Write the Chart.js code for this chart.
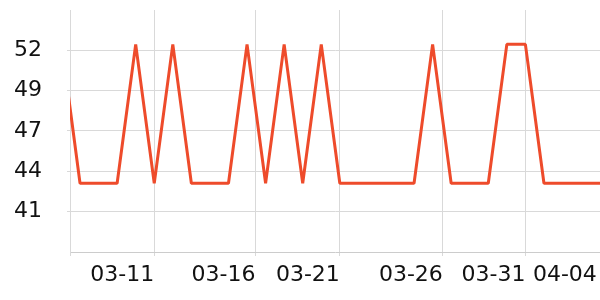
<!DOCTYPE html>
<html>
<head>
<meta charset="utf-8">
<script src="https://cdn.jsdelivr.net/npm/chart.js@4"></script>
<style>
  html, body { margin: 0; padding: 0; background: #ffffff; }
  #wrap { width: 600px; height: 300px; }
</style>
</head>
<body>
<div id="wrap"><canvas id="lineChart"></canvas></div>
<script>
// one point per day, 03-06 .. 04-05
const days = [
    '03-06', '03-07', '03-08', '03-09', '03-10', '03-11', '03-12', '03-13',
    '03-14', '03-15', '03-16', '03-17', '03-18', '03-19', '03-20', '03-21',
    '03-22', '03-23', '03-24', '03-25', '03-26', '03-27', '03-28', '03-29',
    '03-30', '03-31', '04-01', '04-02', '04-03', '04-04', '04-05'
];
const values = [
    52.6, 43.2, 43.2, 43.2, 52.5, 43.2, 52.5, 43.2,
    43.2, 43.2, 52.5, 43.2, 52.5, 43.2, 52.5, 43.2,
    43.2, 43.2, 43.2, 43.2, 52.5, 43.2, 43.2, 43.2,
    52.5, 52.5, 43.2, 43.2, 43.2, 43.2, 43.2
];

// x ticks (day index) and their labels
const xTickPos = [5, 10.45, 15, 20.55, 25, 28.85];
const xTickLabels = ['03-11', '03-16', '03-21', '03-26', '03-31', '04-04'];
const xMin = 0.46;
const xMax = 29.02;

// y ticks
const yTicks = [41.3, 44.0, 46.7, 49.4, 52.1];
const yMin = 38.6;
const yMax = 54.8;

const FONT = 'DejaVu Sans';
const GRID = '#d9d9d9';

let lineChart;

document.addEventListener('DOMContentLoaded', function() {
    const ctx = document.getElementById('lineChart').getContext('2d');
    lineChart = new Chart(ctx, {
        type: 'line',
        data: {
            datasets: [{
                label: 'value',
                data: days.map((d, i) => ({ x: i, y: values[i] })),
                borderColor: '#ee4b2b',
                borderWidth: 3,
                borderJoinStyle: 'bevel',
                pointRadius: 0,
                tension: 0,
                fill: false,
                clip: 0
            }]
        },
        options: {
            responsive: true,
            maintainAspectRatio: false,
            animation: false,
            layout: { padding: { top: 10, right: 0, left: 0, bottom: 0 } },
            plugins: {
                legend: { display: false },
                tooltip: { enabled: false }
            },
            scales: {
                x: {
                    type: 'linear',
                    min: xMin,
                    max: xMax,
                    afterBuildTicks: function(scale) {
                        scale.ticks = [{ value: xMin }].concat(xTickPos.map(v => ({ value: v })));
                    },
                    afterFit: function(scale) {
                        scale.height = 48;
                        scale.paddingLeft = 0;
                        scale.paddingRight = 0;
                    },
                    ticks: {
                        autoSkip: false,
                        maxRotation: 0,
                        align: 'end',
                        padding: 6,
                        color: '#111',
                        font: { family: FONT, size: 22 },
                        callback: (value, index) => index === 0 ? '' : xTickLabels[index - 1]
                    },
                    grid: {
                        color: c => c.index === xTickPos.length ? 'rgba(0,0,0,0)' : GRID,
                        tickLength: 4
                    },
                    border: { color: '#cccccc' }
                },
                y: {
                    min: yMin,
                    max: yMax,
                    afterBuildTicks: function(scale) {
                        scale.ticks = yTicks.map(v => ({ value: v }));
                    },
                    afterFit: function(scale) {
                        scale.width = 70;
                        scale.paddingTop = 0;
                        scale.paddingBottom = 0;
                    },
                    ticks: {
                        padding: 25,
                        color: '#111',
                        font: { family: FONT, size: 22 },
                        callback: v => Math.round(v)
                    },
                    grid: { color: GRID, tickLength: 3 },
                    border: { color: GRID }
                }
            }
        }
    });
});
</script>
</body>
</html>
